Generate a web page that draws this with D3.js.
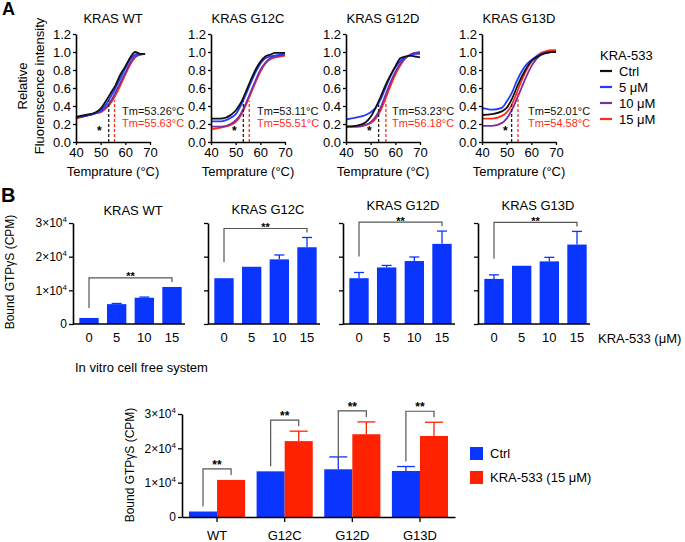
<!DOCTYPE html>
<html>
<head>
<meta charset="utf-8">
<script src="https://cdn.jsdelivr.net/npm/d3@7"></script>
<style>
  body { margin: 0; background: #fff; }
  svg text { font-family: "Liberation Sans", Arial, sans-serif; }
</style>
</head>
<body>
<svg id="chart" width="685" height="542"></svg>
<script>
// ---- panel A: thermal shift curves ----
const temps = [40, 44, 48, 50, 52, 54, 56, 58, 60, 62, 64, 66, 68, 70];
const doseLabels = ['Ctrl', '5 μM', '10 μM', '15 μM'];
const meltTitles = ['KRAS WT', 'KRAS G12C', 'KRAS G12D', 'KRAS G13D'];
// rows: Ctrl, 5, 10, 15 uM
const meltWT = [
  [0.28, 0.30, 0.33, 0.37, 0.45, 0.54, 0.63, 0.75, 0.84, 0.94, 1.00, 0.98, 0.98, null],
  [0.27, 0.29, 0.32, 0.35, 0.41, 0.50, 0.60, 0.71, 0.82, 0.92, 0.97, 0.98, 0.98, null],
  [0.27, 0.29, 0.32, 0.34, 0.38, 0.45, 0.55, 0.66, 0.77, 0.88, 0.95, 0.97, 0.98, null],
  [0.26, 0.29, 0.32, 0.33, 0.37, 0.43, 0.52, 0.63, 0.75, 0.86, 0.94, 0.97, 0.98, null]
];
const meltG12C = [
  [0.26, 0.26, 0.30, 0.35, 0.43, 0.55, 0.68, 0.80, 0.89, 0.95, 0.97, 0.99, 0.99, 0.99],
  [0.23, 0.23, 0.27, 0.31, 0.40, 0.52, 0.65, 0.77, 0.87, 0.93, 0.95, 0.96, 0.97, 0.98],
  [0.17, 0.17, 0.20, 0.24, 0.31, 0.42, 0.55, 0.68, 0.80, 0.88, 0.93, 0.95, 0.96, 0.97],
  [0.14, 0.16, 0.19, 0.22, 0.29, 0.40, 0.53, 0.66, 0.78, 0.87, 0.92, 0.94, 0.95, 0.96]
];
const meltG12D = [
  [0.17, 0.18, 0.22, 0.28, 0.38, 0.50, 0.63, 0.74, 0.84, 0.93, 0.95, 0.96, 0.95, 0.94],
  [0.25, 0.27, 0.30, 0.33, 0.38, 0.47, 0.60, 0.73, 0.83, 0.90, 0.94, 0.96, 0.98, 0.98],
  [0.17, 0.17, 0.19, 0.22, 0.28, 0.38, 0.52, 0.66, 0.78, 0.87, 0.93, 0.97, 0.99, 0.99],
  [0.17, 0.17, 0.19, 0.21, 0.26, 0.35, 0.48, 0.62, 0.75, 0.85, 0.93, 0.97, 0.99, 1.00]
];
const meltG13D = [
  [0.30, 0.31, 0.34, 0.38, 0.47, 0.60, 0.72, 0.82, 0.90, 0.94, 0.97, 0.99, 1.00, 1.00],
  [0.38, 0.36, 0.38, 0.45, 0.54, 0.67, 0.78, 0.86, 0.91, 0.95, 0.98, 0.99, 1.00, 1.00],
  [0.18, 0.18, 0.21, 0.26, 0.35, 0.47, 0.60, 0.73, 0.84, 0.92, 0.97, 0.99, 1.00, 1.00],
  [0.26, 0.26, 0.29, 0.33, 0.41, 0.54, 0.68, 0.80, 0.89, 0.95, 0.99, 1.01, 1.02, 1.02]
];
const tmCtrl = [53.26, 53.11, 53.23, 52.01];
const tmDrug = [55.63, 55.51, 56.18, 54.58];

// ---- panel B: GTPgS binding per mutant ----
const doses = ['0', '5', '10', '15'];
const gtpTitles = ['KRAS WT', 'KRAS G12C', 'KRAS G12D', 'KRAS G13D'];
const gtpWT   = [1800, 5900, 7800, 11000];
const errWT   = [0, 200, 200, 0];
const gtpG12C = [13600, 17000, 19200, 22800];
const errG12C = [0, 0, 1300, 2900];
const gtpG12D = [13600, 16800, 18700, 23800];
const errG12D = [1700, 600, 1200, 3800];
const gtpG13D = [13400, 17300, 18600, 23600];
const errG13D = [1200, 0, 1200, 3900];

// ---- cell free system ----
const mutants = ['WT', 'G12C', 'G12D', 'G13D'];
const ctrlMean = [1600, 13300, 13900, 13400];
const ctrlErr  = [0, 0, 3600, 1300];
const drugMean = [10800, 22100, 24100, 23600];
const drugErr  = [0, 2900, 3600, 4000];

const svg = d3.select('#chart');
const lineColors = ['#111111', '#1f3dff', '#7a2fa0', '#ff2b1c'];
const blue = '#0a35ff';
const red = '#ff2200';

function styleAxis(g, size) {
  g.attr('font-size', size).attr('font-family', '"Liberation Sans", Arial, sans-serif');
  g.select('.domain').attr('stroke-width', 1.6).attr('stroke', '#000');
  g.selectAll('.tick line').attr('stroke-width', 1.3).attr('stroke', '#000');
  g.selectAll('.tick text').attr('fill', '#000');
}

function sciLabels(g) {
  g.selectAll('.tick text').each(function (d) {
    const t = d3.select(this);
    t.text('');
    if (d === 0) { t.text('0'); return; }
    t.append('tspan').text(d / 1e4 + '×10');
    t.append('tspan').attr('dy', -5).attr('font-size', 8).text('4');
  });
}

// panel letters
svg.append('text').attr('x', 2).attr('y', 15).attr('font-size', 18).attr('font-weight', 'bold').text('A');
svg.append('text').attr('x', 1).attr('y', 202).attr('font-size', 20).attr('font-weight', 'bold').text('B');

// ===== panel A =====
const meltX0 = [76, 211, 346, 482];
const meltSets = [meltWT, meltG12C, meltG12D, meltG13D];
const yMelt = d3.scaleLinear().domain([0, 1.2]).range([142, 34]);

meltSets.forEach((set, i) => {
  const x0 = meltX0[i];
  const x = d3.scaleLinear().domain([40, 70]).range([x0, x0 + 74]);
  const g = svg.append('g');

  const line = d3.line()
    .defined(d => d[1] != null)
    .x(d => x(d[0]))
    .y(d => yMelt(d[1]))
    .curve(d3.curveMonotoneX);

  // draw 15 uM first so Ctrl ends up on top
  for (let k = set.length - 1; k >= 0; k--) {
    g.append('path')
      .datum(temps.map((t, j) => [t, set[k][j]]))
      .attr('d', line)
      .attr('fill', 'none')
      .attr('stroke', lineColors[k])
      .attr('stroke-width', 1.8);
  }

  // Tm dashed markers, up to the curve
  const curveAt = (vals, t) => {
    const pts = temps.map((tt, j) => [tt, vals[j]]).filter(p => p[1] != null);
    return d3.scaleLinear().domain(pts.map(p => p[0])).range(pts.map(p => p[1]))(t);
  };
  [[tmCtrl[i], set[0], '#222'], [tmDrug[i], set[3], '#ff2b1c']].forEach(([tm, vals, c]) => {
    g.append('line')
      .attr('x1', x(tm)).attr('x2', x(tm))
      .attr('y1', yMelt(0)).attr('y2', yMelt(curveAt(vals, tm) - 0.04))
      .attr('stroke', c).attr('stroke-width', 1.3).attr('stroke-dasharray', '3,2');
  });

  g.append('text').attr('x', x(49.5)).attr('y', yMelt(0.08))
    .attr('text-anchor', 'middle').attr('font-size', 12).attr('font-weight', 'bold').text('*');

  g.append('text').attr('x', x0 + 46).attr('y', 115).attr('font-size', 11).attr('fill', '#111')
    .text(`Tm=${tmCtrl[i].toFixed(2)}°C`);
  g.append('text').attr('x', x0 + 46).attr('y', 127).attr('font-size', 11).attr('fill', '#ff2b1c')
    .text(`Tm=${tmDrug[i].toFixed(2)}°C`);

  g.append('g').attr('transform', 'translate(0,142)')
    .call(d3.axisBottom(x).tickValues([40, 50, 60, 70]).tickSize(3).tickSizeOuter(0).tickPadding(3))
    .call(a => styleAxis(a, 13));
  g.append('g').attr('transform', `translate(${x0},0)`)
    .call(d3.axisLeft(yMelt).tickValues([0, 0.2, 0.4, 0.6, 0.8, 1.0, 1.2])
      .tickFormat(d3.format('.1f')).tickSize(3).tickSizeOuter(0).tickPadding(2))
    .call(a => styleAxis(a, 13));

  g.append('text').attr('x', x0 + 37).attr('y', 23).attr('text-anchor', 'middle')
    .attr('font-size', 13).text(meltTitles[i]);
  g.append('text').attr('x', x0 + 37).attr('y', 176).attr('text-anchor', 'middle')
    .attr('font-size', 13).text('Temprature (°C)');
});

svg.append('text').attr('transform', 'translate(27,86) rotate(-90)')
  .attr('text-anchor', 'middle').attr('font-size', 13).text('Relative');
svg.append('text').attr('transform', 'translate(44,86) rotate(-90)')
  .attr('text-anchor', 'middle').attr('font-size', 13).text('Fluorenscence intensity');

// legend A
svg.append('text').attr('x', 600).attr('y', 60).attr('font-size', 13).text('KRA-533');
doseLabels.forEach((lab, k) => {
  const yy = 71 + k * 16;
  svg.append('line').attr('x1', 600).attr('x2', 612).attr('y1', yy).attr('y2', yy)
    .attr('stroke', lineColors[k]).attr('stroke-width', 2.2);
  svg.append('text').attr('x', 619).attr('y', yy + 4.5).attr('font-size', 13).text(lab);
});

// ===== panel B =====
const gtpX0 = [73, 208, 343, 478];
const titleY = [215, 214, 210, 210];
const gtpSets = [[gtpWT, errWT], [gtpG12C, errG12C], [gtpG12D, errG12D], [gtpG13D, errG13D]];
const yGtp = d3.scaleLinear().domain([0, 30000]).range([324, 223]);

gtpSets.forEach(([vals, errs], i) => {
  const x0 = gtpX0[i];
  const x = d3.scaleBand().domain(doses).range([x0 + 3, x0 + 112]).paddingInner(0.3).paddingOuter(0.12);
  const g = svg.append('g');

  g.selectAll('rect').data(vals).join('rect')
    .attr('x', (d, j) => x(doses[j]))
    .attr('y', d => yGtp(d))
    .attr('width', x.bandwidth())
    .attr('height', d => yGtp(0) - yGtp(d))
    .attr('fill', blue);

  vals.forEach((v, j) => {
    if (!errs[j]) return;
    const cx = x(doses[j]) + x.bandwidth() / 2;
    g.append('line').attr('x1', cx).attr('x2', cx).attr('y1', yGtp(v)).attr('y2', yGtp(v + errs[j]))
      .attr('stroke', blue).attr('stroke-width', 1.3);
    g.append('line').attr('x1', cx - 5).attr('x2', cx + 5).attr('y1', yGtp(v + errs[j])).attr('y2', yGtp(v + errs[j]))
      .attr('stroke', blue).attr('stroke-width', 1.3);
  });

  // significance bracket 0 vs 15
  const topVal = d3.max(vals.map((v, j) => v + errs[j]));
  const top = yGtp(topVal) - 9;
  const xl = x(doses[0]) + x.bandwidth() / 2;
  const xr = x(doses[3]) + x.bandwidth() / 2;
  const leftBottom = yGtp(vals[0] + errs[0]) - (i === 0 ? 10 : 16);
  g.append('path')
    .attr('d', `M${xl},${leftBottom}V${top}H${xr}V${top + 4}`)
    .attr('fill', 'none').attr('stroke', '#555').attr('stroke-width', 1.2);
  g.append('text').attr('x', (xl + xr) / 2).attr('y', top + 2.5).attr('text-anchor', 'middle')
    .attr('font-size', 11).attr('font-weight', 'bold').text('**');

  g.append('g').attr('transform', 'translate(0,324)')
    .call(d3.axisBottom(x).tickSize(0).tickPadding(9))
    .call(a => styleAxis(a, 13))
    .call(a => a.select('.domain').attr('d', `M${x0},0H${x0 + 112}`));
  const ya = g.append('g').attr('transform', `translate(${x0},0)`)
    .call(d3.axisLeft(yGtp).tickValues([0, 10000, 20000, 30000]).tickSize(4).tickSizeOuter(0).tickPadding(2))
    .call(a => styleAxis(a, 12));
  if (i === 0) ya.call(sciLabels); else ya.selectAll('.tick text').remove();

  g.append('text').attr('x', x0 + 60).attr('y', titleY[i]).attr('text-anchor', 'middle')
    .attr('font-size', 13).text(gtpTitles[i]);
});

svg.append('text').attr('transform', 'translate(14,272) rotate(-90)')
  .attr('text-anchor', 'middle').attr('font-size', 12).text('Bound GTPγS (CPM)');
svg.append('text').attr('x', 598).attr('y', 343).attr('font-size', 13).text('KRA-533 (μM)');

// ===== cell free system =====
svg.append('text').attr('x', 75).attr('y', 372).attr('font-size', 13).text('In vitro cell free system');

const yCf = d3.scaleLinear().domain([0, 30000]).range([517, 414]);
const xCf = d3.scaleBand().domain(mutants).range([182, 455]).paddingInner(0.17).paddingOuter(0.103);
const cf = svg.append('g');
const bw = xCf.bandwidth() / 2;

mutants.forEach((m, j) => {
  const gx = xCf(m);
  [[ctrlMean[j], ctrlErr[j], blue, gx], [drugMean[j], drugErr[j], red, gx + bw]].forEach(([v, e, c, bx]) => {
    cf.append('rect').attr('x', bx).attr('y', yCf(v)).attr('width', bw).attr('height', yCf(0) - yCf(v)).attr('fill', c);
    if (e) {
      const cx = bx + bw / 2;
      cf.append('line').attr('x1', cx).attr('x2', cx).attr('y1', yCf(v)).attr('y2', yCf(v + e))
        .attr('stroke', c).attr('stroke-width', 1.3);
      cf.append('line').attr('x1', cx - 9).attr('x2', cx + 9).attr('y1', yCf(v + e)).attr('y2', yCf(v + e))
        .attr('stroke', c).attr('stroke-width', 1.3);
    }
  });
  const top = yCf(drugMean[j] + drugErr[j]) - 11;
  const xl = gx + bw / 2;
  const xr = gx + bw * 1.5;
  const leftBottom = Math.max(yCf(ctrlMean[j] + ctrlErr[j]) - 5, yCf(ctrlMean[j]) - 10);
  cf.append('path')
    .attr('d', `M${xl},${leftBottom}V${top}H${xr}V${top + 6}`)
    .attr('fill', 'none').attr('stroke', '#555').attr('stroke-width', 1.2);
  cf.append('text').attr('x', (xl + xr) / 2).attr('y', top).attr('text-anchor', 'middle')
    .attr('font-size', 12).attr('font-weight', 'bold').text('**');
});

cf.append('g').attr('transform', 'translate(0,517)')
  .call(d3.axisBottom(xCf).tickSize(5).tickSizeOuter(0).tickPadding(9))
  .call(a => styleAxis(a, 13));
cf.append('g').attr('transform', 'translate(182,0)')
  .call(d3.axisLeft(yCf).tickValues([0, 10000, 20000, 30000]).tickSize(4).tickSizeOuter(0).tickPadding(2))
  .call(a => styleAxis(a, 12))
  .call(sciLabels);

svg.append('text').attr('transform', 'translate(134,465) rotate(-90)')
  .attr('text-anchor', 'middle').attr('font-size', 12).text('Bound GTPγS (CPM)');

// legend
[['Ctrl', blue], ['KRA-533 (15 μM)', red]].forEach(([lab, c], k) => {
  svg.append('rect').attr('x', 470).attr('y', 447 + k * 24).attr('width', 13).attr('height', 13).attr('fill', c);
  svg.append('text').attr('x', 490).attr('y', 458 + k * 24).attr('font-size', 13).text(lab);
});
</script>
</body>
</html>
